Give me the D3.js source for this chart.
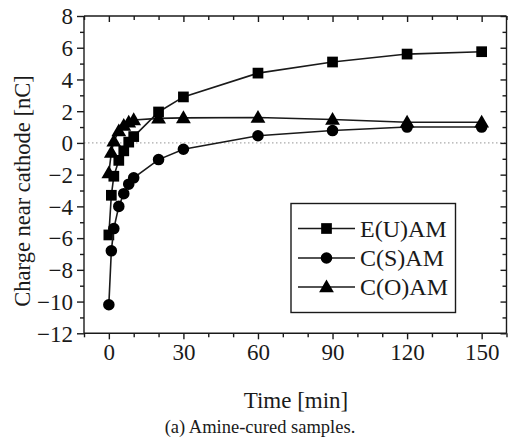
<!DOCTYPE html>
<html>
<head>
<meta charset="utf-8">
<script src="https://cdn.jsdelivr.net/npm/d3@7"></script>
<style>
  body { margin: 0; background: #fff; }
  svg { display: block; font-family: "Liberation Serif", "Times New Roman", serif; }
</style>
</head>
<body>
<svg width="508" height="441"></svg>
<script>
var svg = d3.select("svg");

// time points [min]
var times = [0, 1, 2, 4, 6, 8, 10, 20, 30, 60, 90, 120, 150];
// charge near cathode [nC]
var euam = [-5.8, -3.3, -2.1, -1.1, -0.5, 0.05, 0.4, 1.95, 2.9, 4.4, 5.1, 5.6, 5.75];
var csam = [-10.2, -6.8, -5.4, -4.0, -3.2, -2.6, -2.2, -1.05, -0.4, 0.45, 0.78, 1.0, 1.0];
var coam = [-1.9, -0.6, 0.1, 0.75, 1.1, 1.3, 1.45, 1.55, 1.58, 1.6, 1.48, 1.3, 1.3];

var seriesNames = ["E(U)AM", "C(S)AM", "C(O)AM"];
var xMajor = [0, 30, 60, 90, 120, 150];
var xMinor = [-10, 10, 20, 40, 50, 70, 80, 100, 110, 130, 140, 160];
var yMajor = [-12, -10, -8, -6, -4, -2, 0, 2, 4, 6, 8];
var yMinor = [-11, -9, -7, -5, -3, -1, 1, 3, 5, 7];

var pL = 84, pR = 506.5, pT = 16, pB = 333.3;

var x = d3.scaleLinear().domain([-10, 160]).range([pL, pR]);
var y = d3.scaleLinear().domain([-12, 8]).range([pB, pT]);

var ink = "#1a1a1a";

// zero reference line
svg.append("line")
   .attr("x1", pL).attr("x2", pR)
   .attr("y1", y(0)).attr("y2", y(0))
   .style("stroke", "#aaa")
   .style("stroke-width", 1.2)
   .style("stroke-dasharray", "1.5,2.5");

// axes: ticks outside on left/bottom, inside on top/right
function axisSet(axisFn, scale, pos, major, minor, majLen, minLen, labels) {
    var g = svg.append("g").attr("transform", pos);
    g.call(axisFn(scale).tickValues(minor).tickSize(minLen).tickFormat(""));
    var g2 = svg.append("g").attr("transform", pos);
    g2.call(axisFn(scale).tickValues(major).tickSize(majLen).tickSizeOuter(0)
        .tickFormat(labels ? d3.format("d") : ""));
    [g, g2].forEach(function(s) {
        s.selectAll("path, line").style("stroke", ink).style("stroke-width", 1.4);
        s.selectAll("text").style("font-size", "23px").style("fill", ink)
         .style("font-family", "'Liberation Serif', serif");
    });
    g.select("path").remove();
    return g2;
}

var gx = axisSet(d3.axisBottom, x, "translate(0," + pB + ")", xMajor, xMinor, 6, 4, true);
gx.select("path").attr("d", "M" + pL + ",0H" + pR);
gx.selectAll("text").attr("dy", "0.71em").attr("y", 10);

var gxt = axisSet(d3.axisTop, x, "translate(0," + pT + ")", xMajor, xMinor, -6, -4, false);
gxt.select("path").attr("d", "M" + pL + ",0H" + pR);

var gy = axisSet(d3.axisLeft, y, "translate(" + pL + ",0)", yMajor, yMinor, 7, 4, true);
gy.select("path").attr("d", "M0," + pT + "V" + pB);
gy.selectAll("text").attr("x", -11).attr("dy", "0.34em");

var gyr = axisSet(d3.axisRight, y, "translate(" + pR + ",0)", yMajor, yMinor, -6, -4, false);
gyr.select("path").attr("d", "M0," + pT + "V" + pB);

// series
var allSeries = [euam, csam, coam];
var symbols = [d3.symbolSquare, d3.symbolCircle, d3.symbolTriangle];
var symSizes = [115, 105, 95];

var line = d3.line()
    .x(function(d) { return x(d[0]); })
    .y(function(d) { return y(d[1]); });

allSeries.forEach(function(vals, si) {
    var pts = times.map(function(t, i) { return [t, vals[i]]; });
    svg.append("path")
       .datum(pts)
       .attr("d", line)
       .style("fill", "none")
       .style("stroke", ink)
       .style("stroke-width", 1.6);
    svg.append("g").selectAll("path")
       .data(pts)
       .enter()
       .append("path")
         .attr("transform", function(d) {
             var dy = si === 2 ? 1 : 0;
             return "translate(" + x(d[0]) + "," + (y(d[1]) + dy) + ")";
         })
         .attr("d", d3.symbol().type(symbols[si]).size(symSizes[si]))
         .style("fill", "#000");
});

// legend
var lg = svg.append("g");
lg.append("rect")
  .attr("x", 291).attr("y", 203.5)
  .attr("width", 164.5).attr("height", 109)
  .style("fill", "#fff")
  .style("stroke", ink)
  .style("stroke-width", 1.4);

var rowY = [228.5, 258, 287];
seriesNames.forEach(function(name, i) {
    lg.append("line")
      .attr("x1", 298).attr("x2", 355)
      .attr("y1", rowY[i]).attr("y2", rowY[i])
      .style("stroke", ink).style("stroke-width", 1.6);
    lg.append("path")
      .attr("transform", "translate(326.5," + (rowY[i] + (i === 2 ? 1 : 0)) + ")")
      .attr("d", d3.symbol().type(symbols[i]).size(symSizes[i]))
      .style("fill", "#000");
    lg.append("text")
      .attr("x", 360).attr("y", rowY[i])
      .attr("dy", "0.35em")
      .style("font-size", "24px")
      .style("fill", ink)
      .text(name);
});

// axis titles
svg.append("text")
   .attr("transform", "translate(22,191) rotate(-90)")
   .attr("text-anchor", "middle")
   .attr("dy", "0.35em")
   .style("font-size", "22.5px")
   .style("fill", ink)
   .text("Charge near cathode [nC]");

svg.append("text")
   .attr("x", 296).attr("y", 408)
   .attr("text-anchor", "middle")
   .style("font-size", "23px")
   .style("fill", ink)
   .text("Time [min]");

svg.append("text")
   .attr("x", 260).attr("y", 433)
   .attr("text-anchor", "middle")
   .style("font-size", "18.5px")
   .style("fill", ink)
   .text("(a) Amine-cured samples.");
</script>
</body>
</html>
